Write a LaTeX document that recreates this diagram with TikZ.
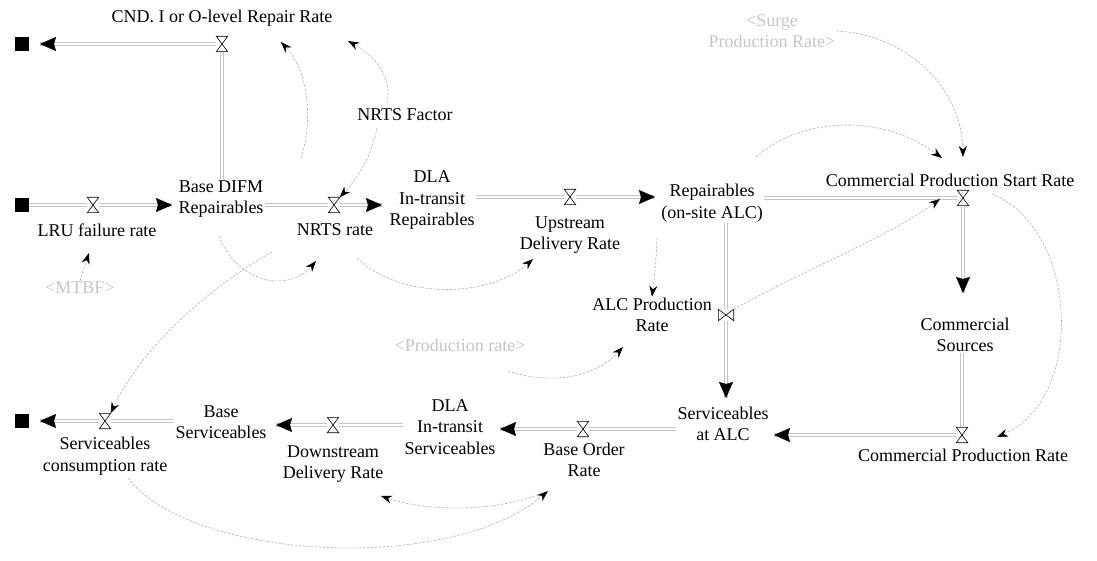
\documentclass[tikz,border=0pt]{standalone}
\usepackage{fontspec}
\setmainfont{Liberation Serif}
\usetikzlibrary{arrows.meta}
\begin{document}
\begin{tikzpicture}[x=1pt,y=-1pt,
  lab/.style={font=\fontsize{18}{21.5}\selectfont, align=center, inner sep=1pt, text=black},
  shadowvar/.style={lab, text=gray!45},
  cloudbox/.style={fill=black, minimum size=14pt, inner sep=0pt},
  valve/.style={minimum width=11pt, minimum height=15pt, inner sep=0pt},
  valveh/.style={minimum width=15pt, minimum height=11pt, inner sep=0pt},
  valveline/.style={draw=black, fill=white, line width=0.6pt, line join=miter},
  pipe/.style={draw=gray!45, double=white, double distance=2.6pt, line width=0.6pt, arrows=-},
  flow/.style={preaction={pipe}, draw=white, line width=0.2pt,
    -{Stealth[color=black,length=16pt,width=14pt,inset=2pt]}},
  conn/.style={draw=gray!60, line width=0.6pt, dash pattern=on 2.5pt off 1.5pt,
    -{Stealth[color=black,length=11pt,width=8pt]}},
]
\useasboundingbox (0,0) rectangle (1097,561);

% sources and sinks
\node[cloudbox] (cA) at (22,44) {};
\node[cloudbox] (cB) at (22,205) {};
\node[cloudbox] (cC) at (22,421) {};

% flow valves
\node[valve] (vCND) at (222,44) {};
\node[valve] (vLRU) at (93,205) {};
\node[valve] (vNRTS) at (334,205) {};
\node[valve] (vUp) at (570,197) {};
\node[valve] (vCPSR) at (963,198) {};
\node[valveh] (vALC) at (726,315) {};
\node[valve] (vCPR) at (962,435) {};
\node[valve] (vBO) at (583,429) {};
\node[valve] (vDD) at (333,425) {};
\node[valve] (vSC) at (105,421) {};

% stocks
\node[lab] (dfm) at (221,199) {Base DIFM\\Repairables};
\node[lab] (dlaR) at (432,200) {DLA\\In-transit\\Repairables};
\node[lab] (repA) at (712,203) {Repairables\\(on-site ALC)};
\node[lab] (cs) at (965,335) {Commercial\\Sources};
\node[lab] (svA) at (723,424) {Serviceables\\at ALC};
\node[lab] (dlaS) at (450,427) {DLA\\In-transit\\Serviceables};
\node[lab] (bsv) at (221,422) {Base\\Serviceables};

% rates and auxiliaries
\node[lab] (cndL) at (222,18) {CND. I or O-level Repair Rate};
\node[lab] (nf) at (405,115) {NRTS Factor};
\node[lab] (lruL) at (97,230) {LRU failure rate};
\node[shadowvar] (mtbf) at (80,288) {<MTBF>};
\node[lab] (nrL) at (335,230) {NRTS rate};
\node[lab] (upL) at (570,235) {Upstream\\Delivery Rate};
\node[lab] (cpsrL) at (950,180) {Commercial Production Start Rate};
\node[shadowvar] (srg) at (772,31) {<Surge\\Production Rate>};
\node[lab] (alcL) at (652,315) {ALC Production\\Rate};
\node[shadowvar] (prodR) at (460,345) {<Production rate>};
\node[lab] (cprL) at (963,455) {Commercial Production Rate};
\node[lab] (boL) at (584,460) {Base Order\\Rate};
\node[lab] (ddL) at (333,464) {Downstream\\Delivery Rate};
\node[lab] (scL) at (105,456) {Serviceables\\consumption rate};

% ends of the flow arrows
\coordinate (tA) at (40,44);
\coordinate (tDFM) at (172,205);
\coordinate (tDLAR) at (382,205);
\coordinate (tRep) at (655,197);
\coordinate (tCS) at (963,293);
\coordinate (tSvTop) at (726,398);
\coordinate (tSvRight) at (774,435);
\coordinate (tDLAS) at (500,429);
\coordinate (tBSV) at (276,425);
\coordinate (tC) at (40,421);

% material flows
\draw[pipe] (vCND |- dfm.north) -- (vCND.south);
\draw[flow] (vCND.west) -- (tA);
\draw[pipe] (cB.east) -- (vLRU.west);
\draw[flow] (vLRU.east) -- (tDFM);
\draw[pipe] (dfm.east |- vNRTS) -- (vNRTS.west);
\draw[flow] (vNRTS.east) -- (tDLAR);
\draw[pipe] (dlaR.east |- vUp) -- (vUp.west);
\draw[flow] (vUp.east) -- (tRep);
\draw[pipe] (repA.east |- vCPSR) -- (vCPSR.west);
\draw[flow] (vCPSR.south) -- (tCS);
\draw[pipe] (vALC |- repA.south) -- (vALC.north);
\draw[flow] (vALC.south) -- (tSvTop);
\draw[pipe] (vCPR |- cs.south) -- (vCPR.north);
\draw[flow] (vCPR.west) -- (tSvRight);
\draw[pipe] (svA.west |- vBO) -- (vBO.east);
\draw[flow] (vBO.west) -- (tDLAS);
\draw[pipe] (dlaS.west |- vDD) -- (vDD.east);
\draw[flow] (vDD.west) -- (tBSV);
\draw[pipe] (bsv.west |- vSC) -- (vSC.east);
\draw[flow] (vSC.west) -- (tC);

% valve symbols
\foreach \v in {vCND,vLRU,vNRTS,vUp,vCPSR,vCPR,vBO,vDD,vSC}
  \draw[valveline] (\v.north west) -- (\v.north east) -- (\v.south west) -- (\v.south east) -- cycle;
\draw[valveline] (vALC.north west) -- (vALC.south west) -- (vALC.north east) -- (vALC.south east) -- cycle;

% information links
\coordinate (aS) at (301,158);  \coordinate (aE) at (281,42);
\coordinate (bS) at (387,103);  \coordinate (bE) at (348,41);
\coordinate (cS) at (377,128);
\coordinate (dS) at (219,236);  \coordinate (dE) at (316,261);
\coordinate (eS) at (272,252);
\coordinate (fS) at (357,258);  \coordinate (fE) at (533,259);
\coordinate (gS) at (657,238);
\coordinate (hE) at (940,199);
\coordinate (iS) at (756,157);  \coordinate (iE) at (942,158);
\coordinate (jE) at (963,157);
\coordinate (kS) at (508,371);  \coordinate (kE) at (623,347);
\coordinate (lS) at (992,194);  \coordinate (lE) at (997,437);
\coordinate (mS) at (128,478);  \coordinate (mE) at (548,491);
\coordinate (nS) at (542,493);  \coordinate (nE) at (381,496);
\coordinate (oE) at (89,253);

\draw[conn] (aS) .. controls (313,120) and (309,72) .. (aE);
\draw[conn] (bS) .. controls (393,80) and (376,56) .. (bE);
\draw[conn] (cS) .. controls (372,155) and (358,178) .. (vNRTS.north east);
\draw[conn] (dS) .. controls (238,285) and (290,292) .. (dE);
\draw[conn] (eS) .. controls (205,290) and (140,350) .. (vSC.north east);
\draw[conn] (fS) .. controls (400,300) and (490,298) .. (fE);
\draw[conn] (gS) .. controls (656,262) .. (alcL.north);
\draw[conn] (vALC.north east) .. controls (800,272) and (890,236) .. (hE);
\draw[conn] (iS) .. controls (800,118) and (880,112) .. (iE);
\draw[conn] (srg.east) .. controls (910,35) and (962,90) .. (jE);
\draw[conn] (kS) .. controls (560,388) and (600,372) .. (kE);
\draw[conn] (lS) .. controls (1080,230) and (1085,400) .. (lE);
\draw[conn] (mS) .. controls (190,560) and (450,575) .. (mE);
\draw[conn] (nS) .. controls (495,513) and (425,511) .. (nE);
\draw[conn] (mtbf.north) -- (oE);
\end{tikzpicture}
\end{document}
